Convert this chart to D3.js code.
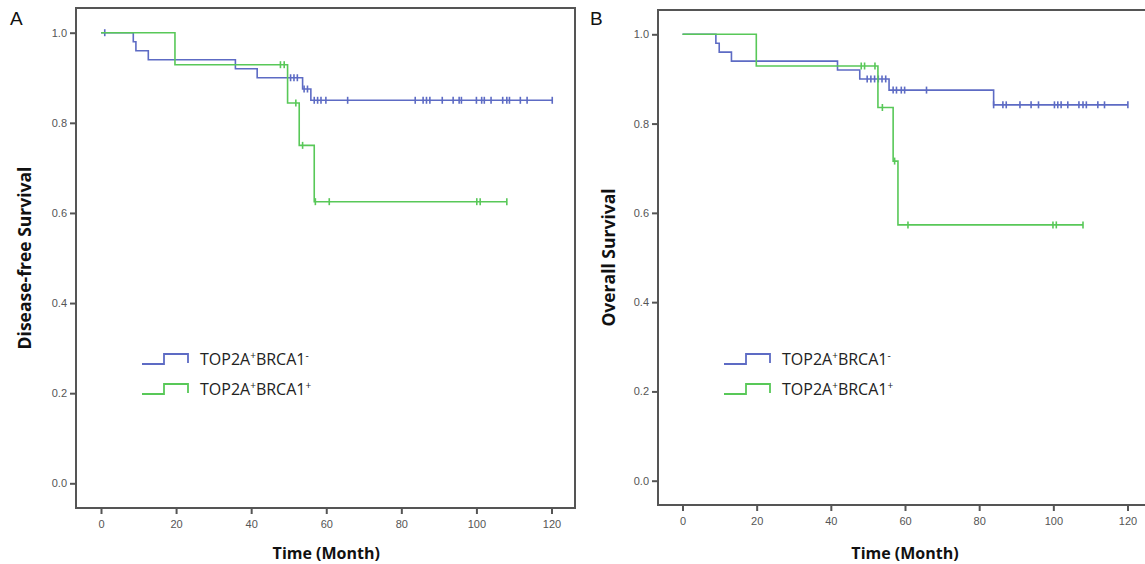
<!DOCTYPE html>
<html>
<head>
<meta charset="utf-8">
<script src="https://cdn.jsdelivr.net/npm/d3@7"></script>
<style>
  body { margin: 0; background: #fff; }
  svg { display: block; }
  .tick text { font-family: "Liberation Sans", Arial, sans-serif; font-size: 11px; fill: #555; }
  .tick line { stroke: #555; stroke-width: 2; }
</style>
</head>
<body>
<div id="chart"></div>
<script>
// ---- data ----
var xTicks = [0, 20, 40, 60, 80, 100, 120];
var yTicks = [0, 0.2, 0.4, 0.6, 0.8, 1.0];
var groupNames = ["TOP2A|+|BRCA1|-", "TOP2A|+|BRCA1|+"];
var groupColors = ["#5d6bc4", "#58c858"];

// A: disease-free survival, [month, survival] at each drop
var dfsNegSteps = [[0, 1], [8.6, 0.98], [9.3, 0.96], [12.6, 0.94], [35.8, 0.92], [41.6, 0.90], [53.7, 0.875], [55.9, 0.85]];
var dfsNegCensor = [1, 50.5, 51.4, 52.3, 54.1, 55.0, 56.8, 57.7, 58.6, 59.9, 65.7, 83.7, 85.8, 86.7, 87.6, 90.9, 93.8,
    95.4, 96.0, 100.0, 101.4, 102.1, 103.9, 107.0, 108.1, 108.8, 111.7, 113.5, 120.2];
var dfsNegEnd = 120.2;
var dfsPosSteps = [[0, 1], [19.7, 0.929], [49.7, 0.844], [52.8, 0.75], [56.8, 0.625]];
var dfsPosCensor = [47.8, 48.8, 51.9, 53.7, 57.1, 60.8, 100.1, 101.0, 108.1];
var dfsPosEnd = 108.1;

// B: overall survival
var osNegSteps = [[0, 1], [9.0, 0.98], [9.9, 0.96], [13.2, 0.94], [41.8, 0.92], [47.8, 0.90], [55.7, 0.875], [83.9, 0.842]];
var osNegCensor = [49.8, 50.8, 51.8, 52.8, 53.8, 54.8, 56.8, 57.7, 59.0, 59.9, 65.8, 83.9, 86.4, 87.3, 91.0, 94.0, 96.0,
    100.3, 101.2, 102.1, 103.9, 106.9, 108.0, 108.9, 112.0, 113.8, 120.1];
var osNegEnd = 120.1;
var osPosSteps = [[0, 1], [19.9, 0.929], [52.7, 0.836], [56.8, 0.716], [58.1, 0.573]];
var osPosCensor = [48.2, 49.1, 51.9, 53.9, 57.2, 60.8, 99.9, 100.8, 108.0];
var osPosEnd = 108.0;

var width = 1145, height = 564;

var svg = d3.select('#chart').append('svg')
    .attr('width', width)
    .attr('height', height);

// layout of the two panels
var panels = [
    {
        letter: 'A', letterX: 10, letterY: 25,
        frame: {l: 76, t: 8, r: 575, b: 508},
        xr: [101, 551.5], yr: [483.3, 32.7],
        ytitle: 'Disease-free Survival', ytitleX: 25,
        groups: [
            {steps: dfsNegSteps, censor: dfsNegCensor, end: dfsNegEnd},
            {steps: dfsPosSteps, censor: dfsPosCensor, end: dfsPosEnd}
        ]
    },
    {
        letter: 'B', letterX: 590, letterY: 25,
        frame: {l: 658, t: 10, r: 1152, b: 505},
        xr: [682.5, 1127.5], yr: [480.7, 34.3],
        ytitle: 'Overall Survival', ytitleX: 609,
        groups: [
            {steps: osNegSteps, censor: osNegCensor, end: osNegEnd},
            {steps: osPosSteps, censor: osPosCensor, end: osPosEnd}
        ]
    }
];

// survival value of a step curve at time t
function survAt(steps, t) {
    var v = steps[0][1];
    steps.forEach(function (s) { if (s[0] <= t) v = s[1]; });
    return v;
}

panels.forEach(function (p) {
    var x = d3.scaleLinear().domain([0, 120]).range(p.xr);
    var y = d3.scaleLinear().domain([0, 1]).range(p.yr);
    var f = p.frame;
    var g = svg.append('g');

    // panel letter
    g.append('text')
        .attr('x', p.letterX).attr('y', p.letterY)
        .style('font-family', '"Liberation Sans", Arial, sans-serif')
        .style('font-size', '19px')
        .style('fill', '#111')
        .text(p.letter);

    // curves
    var line = d3.line()
        .x(function (d) { return x(d[0]); })
        .y(function (d) { return y(d[1]); })
        .curve(d3.curveStepAfter);

    p.groups.forEach(function (grp, i) {
        var pts = grp.steps.concat([[grp.end, grp.steps[grp.steps.length - 1][1]]]);
        g.append('path')
            .attr('d', line(pts))
            .attr('fill', 'none')
            .attr('stroke', groupColors[i])
            .attr('stroke-width', 1.6);

        // censor marks
        g.selectAll('.cens' + i)
            .data(grp.censor)
            .enter().append('line')
            .attr('class', 'cens' + i)
            .attr('x1', function (d) { return x(d); })
            .attr('x2', function (d) { return x(d); })
            .attr('y1', function (d) { return y(survAt(grp.steps, d)) - 3.5; })
            .attr('y2', function (d) { return y(survAt(grp.steps, d)) + 3.5; })
            .attr('stroke', groupColors[i])
            .attr('stroke-width', 1.6);
    });

    // frame
    g.append('rect')
        .attr('x', f.l).attr('y', f.t)
        .attr('width', f.r - f.l).attr('height', f.b - f.t)
        .attr('fill', 'none')
        .attr('stroke', '#555')
        .attr('stroke-width', 2);

    // axes
    var yAxis = g.append('g')
        .attr('transform', 'translate(' + f.l + ',0)')
        .call(d3.axisLeft(y).tickValues(yTicks).tickFormat(d3.format('.1f')).tickSize(6).tickPadding(3));
    yAxis.select('.domain').remove();

    var xAxis = g.append('g')
        .attr('transform', 'translate(0,' + f.b + ')')
        .call(d3.axisBottom(x).tickValues(xTicks).tickFormat(d3.format('d')).tickSize(6).tickPadding(6));
    xAxis.select('.domain').remove();

    // axis titles
    g.append('text')
        .attr('x', (p.xr[0] + p.xr[1]) / 2)
        .attr('y', 559)
        .attr('text-anchor', 'middle')
        .style('font-family', '"Open Sans", sans-serif')
        .style('font-weight', 'bold')
        .style('font-size', '16px')
        .style('fill', '#111')
        .text('Time (Month)');

    g.append('text')
        .attr('transform', 'translate(' + (p.ytitleX + 6) + ',' + ((f.t + f.b) / 2) + ') rotate(-90)')
        .attr('text-anchor', 'middle')
        .style('font-family', '"Open Sans", sans-serif')
        .style('font-weight', 'bold')
        .style('font-size', '17.5px')
        .style('fill', '#111')
        .text(p.ytitle);

    // legend
    var lx = f.l + 66;
    groupNames.forEach(function (name, i) {
        var cy = 359 + i * 30;
        g.append('path')
            .attr('d', 'M' + lx + ',' + (cy + 5) + 'H' + (lx + 22) + 'V' + (cy - 5) + 'H' + (lx + 46) + 'V' + (cy + 4))
            .attr('fill', 'none')
            .attr('stroke', groupColors[i])
            .attr('stroke-width', 1.8);

        var parts = name.split('|');
        var t = g.append('text')
            .attr('x', lx + 58)
            .attr('y', cy + 6)
            .style('font-family', '"Open Sans", sans-serif')
            .style('font-size', '16px')
            .style('fill', '#222');
        t.append('tspan').text(parts[0]);
        t.append('tspan').attr('dy', -6).style('font-size', '10px').text(parts[1]);
        t.append('tspan').attr('dy', 6).text(parts[2]);
        t.append('tspan').attr('dy', -6).style('font-size', '10px').text(parts[3]);
    });
});
</script>
</body>
</html>
